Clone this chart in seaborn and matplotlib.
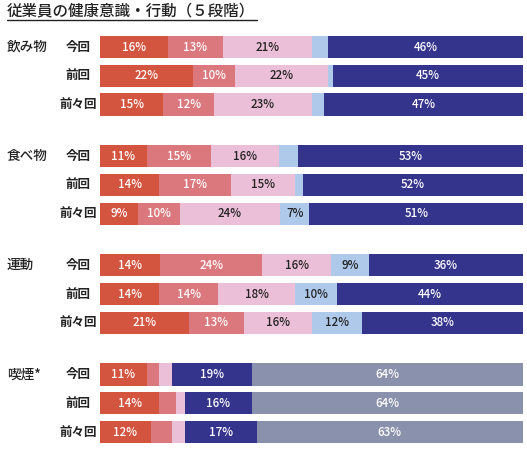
import numpy as np
import matplotlib
matplotlib.use('Agg')
import matplotlib.pyplot as plt
import matplotlib.transforms as mtransforms
import seaborn as sns

# Data (percent, 5 levels per row)
groups = ['飲み物', '食べ物', '運動', '喫煙*']
rounds = ['今回', '前回', '前々回']

drink = [[16, 13, 21, 4, 46],
         [22, 10, 22, 1, 45],
         [15, 12, 23, 3, 47]]
food = [[11, 15, 16, 4.5, 53],
        [14, 17, 15, 2, 52],
        [9, 10, 24, 7, 51]]
exercise = [[14, 24, 16, 9, 36],
            [14, 14, 18, 10, 44],
            [21, 13, 16, 12, 38]]
smoking = [[11, 3, 3, 19, 64],
           [14, 4, 2, 16, 64],
           [12, 5, 3, 17, 63]]

# Colours per group (smoking uses a different scale)
base_colors = ['#D35540', '#DA787D', '#EBBFD7', '#AFC9EA', '#34348C']
smoke_colors = ['#D35540', '#DA787D', '#EBBFD7', '#34348C', '#8A91AC']
base_text = ['white', 'white', '#222222', '#222222', 'white']
smoke_text = ['white', 'white', '#222222', 'white', 'white']

sns.set_theme(style='white')
plt.rcParams['font.family'] = ['Noto Sans CJK JP', 'DejaVu Sans']

W, H = 527, 450
fig = plt.figure(figsize=(W / 100, H / 100), dpi=100)

# axes placement in pixels
ax_left, ax_right = 100, 523
y_first, y_last = 47, 432
span = 3 * 3.8 + 2
ppu = (y_last - y_first) / span
ax_top = y_first - 0.5 * ppu
ax_bot = y_last + 0.5 * ppu
ax = fig.add_axes([ax_left / W, 1 - ax_bot / H, (ax_right - ax_left) / W, (ax_bot - ax_top) / H])

all_data = [drink, food, exercise, smoking]
trans = mtransforms.blended_transform_factory(fig.transFigure, ax.transData)

for g, data in enumerate(all_data):
    colors = smoke_colors if g == 3 else base_colors
    tcolors = smoke_text if g == 3 else base_text
    for r, row in enumerate(data):
        y = g * 3.8 + r
        vals = np.array(row, dtype=float)
        widths = vals / vals.sum() * 100
        lefts = np.concatenate([[0], np.cumsum(widths)[:-1]])
        for k in range(5):
            ax.barh(y, widths[k], left=lefts[k], height=0.77, color=colors[k],
                    edgecolor='none')
            if vals[k] >= 6:
                ax.text(lefts[k] + widths[k] / 2, y, f'{int(round(vals[k]))}%',
                        ha='center', va='center', fontsize=8.3, fontweight='medium',
                        color=tcolors[k])
        ax.text(78 / W, y, rounds[r], transform=trans, ha='center', va='center',
                fontsize=9, fontweight='bold', color='#222222')
    ax.text(7 / W, g * 3.8, groups[g], transform=trans, ha='left', va='center',
            fontsize=9.8, fontweight='medium', color='#222222')

ax.set_xlim(0, 100)
ax.set_ylim(span + 0.5, -0.5)
ax.axis('off')

# title with underline
fig.text(7 / W, 1 - 11 / H, '従業員の健康意識・行動（５段階）', ha='left', va='center',
         fontsize=11.2, fontweight='medium', color='#222222')
fig.add_artist(plt.Line2D([7 / W, 257 / W], [1 - 19.5 / H, 1 - 19.5 / H],
                          color='#222222', linewidth=1.0))

fig.savefig('out.png', dpi=100)
